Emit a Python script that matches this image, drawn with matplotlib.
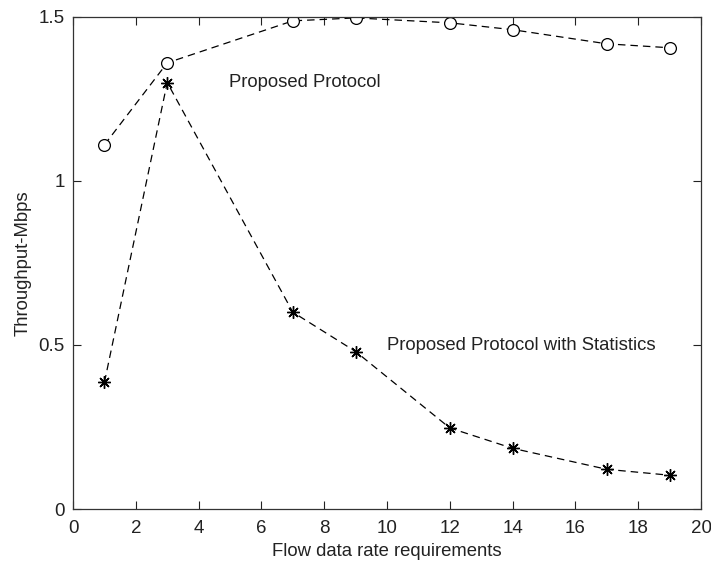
import matplotlib
matplotlib.use("Agg")
import matplotlib.pyplot as plt

# Data
flow_rate = [1, 3, 7, 9, 12, 14, 17, 19]
proposed = [1.11, 1.36, 1.488, 1.497, 1.482, 1.461, 1.418, 1.406]
with_stats = [0.386, 1.30, 0.60, 0.48, 0.247, 0.185, 0.121, 0.103]

x_ticks = [0, 2, 4, 6, 8, 10, 12, 14, 16, 18, 20]
y_ticks = [0, 0.5, 1, 1.5]
y_tick_labels = ["0", "0.5", "1", "1.5"]

plt.rcParams["font.family"] = ["Liberation Sans", "DejaVu Sans"]

fig = plt.figure(figsize=(7.11, 5.64), dpi=100)
ax = fig.add_axes([0.1027, 0.0975, 0.8833, 0.8725])

ax.plot(flow_rate, proposed, color="black", linestyle=(0, (6, 4)), linewidth=0.9,
        marker="o", markersize=8.5, markerfacecolor="white", markeredgecolor="black",
        markeredgewidth=0.9)
ax.plot(flow_rate, with_stats, color="black", linestyle=(0, (6, 4)), linewidth=0.9,
        marker=(8, 2, 0), markersize=9, markeredgecolor="black", markeredgewidth=1.0)

ax.text(4.97, 1.30, "Proposed Protocol", fontsize=13.3, va="center", ha="left",
        color="#222222")
ax.text(10.0, 0.497, "Proposed Protocol with Statistics", fontsize=13.3,
        va="center", ha="left", color="#222222")

ax.set_xlim(0, 20)
ax.set_ylim(0, 1.5)
ax.set_xticks(x_ticks)
ax.set_yticks(y_ticks)
ax.set_yticklabels(y_tick_labels)
ax.tick_params(direction="in", length=6, width=0.8, top=True, right=True,
               labelsize=13.5, colors="#222222")
ax.tick_params(axis="x", pad=8)
ax.tick_params(axis="y", pad=6)
for spine in ax.spines.values():
    spine.set_linewidth(0.9)
    spine.set_color("#333333")

ax.set_xlabel("Flow data rate requirements", fontsize=13.3, labelpad=4,
              color="#222222")
ax.set_ylabel("Throughput-Mbps", fontsize=13.3, labelpad=5, color="#222222")

fig.savefig("out.png", dpi=100)
plt.close(fig)
